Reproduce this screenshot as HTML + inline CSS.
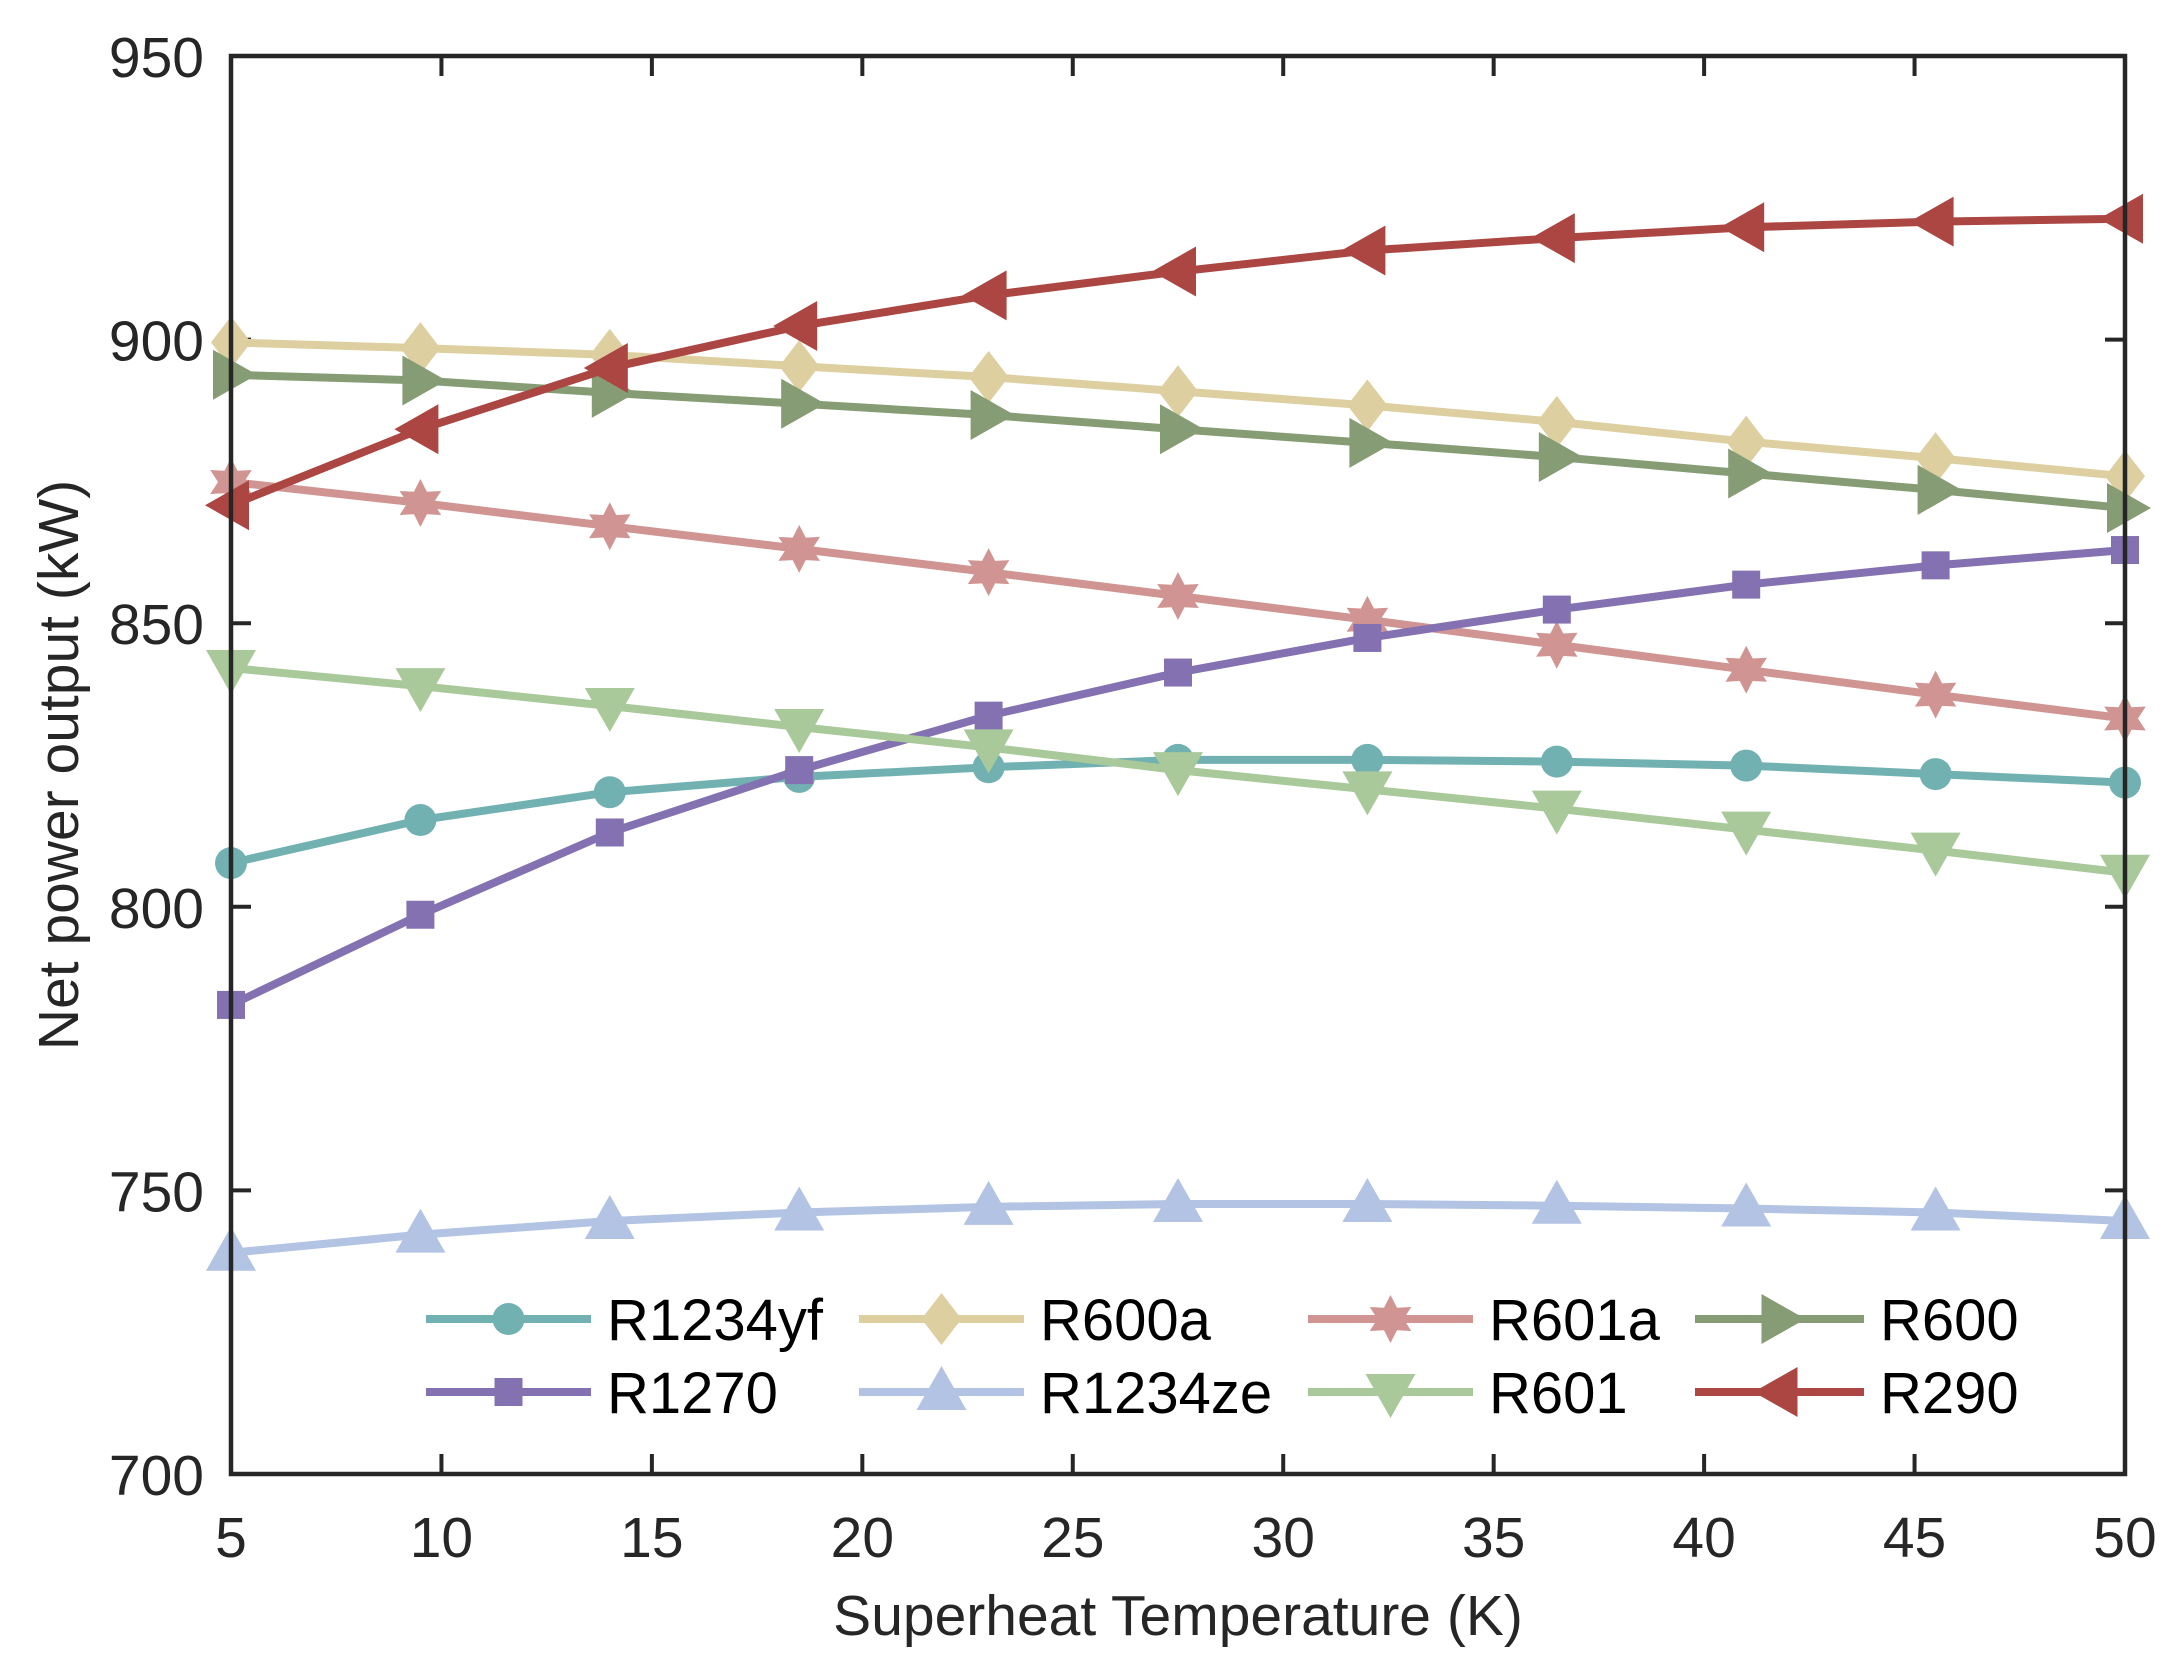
<!DOCTYPE html>
<html><head><meta charset="utf-8"><style>
html,body{margin:0;padding:0;background:#fff;}
svg{display:block;font-family:"Liberation Sans",Arial,sans-serif;}
</style></head><body>
<svg id="chart" width="2182" height="1680" viewBox="0 0 2182 1680" xmlns="http://www.w3.org/2000/svg"></svg>
<script>
const xValues=[5,9.5,14,18.5,23,27.5,32,36.5,41,45.5,50];
const xTicks=[5,10,15,20,25,30,35,40,45,50];
const yTicks=[700,750,800,850,900,950];
const seriesNames=["R1234yf","R600a","R601a","R600","R1270","R1234ze","R601","R290"];
const r1234yf=[807.7,815.3,820.2,822.9,824.6,825.9,825.9,825.6,824.9,823.4,821.9];
const r600a=[899.5,898.5,897.3,895.3,893.4,890.9,888.4,885.5,882.0,879.1,875.9];
const r601a=[874.9,871.2,867.1,863.1,859.0,854.8,850.6,846.2,841.8,837.4,833.2];
const r600=[893.8,892.8,890.6,888.7,886.7,884.2,881.8,879.3,876.4,873.5,870.3];
const r1270=[782.7,798.6,813.1,824.1,833.7,841.3,847.4,852.4,856.8,860.2,862.9];
const r1234ze=[739.0,742.2,744.6,746.1,747.1,747.6,747.6,747.3,746.8,746.1,744.6];
const r601=[842.1,838.9,835.4,831.7,828.1,824.1,820.7,817.3,813.6,809.9,806.0];
const r290=[870.8,884.2,895.0,902.4,907.8,912.0,915.7,917.9,919.8,920.8,921.3];

const L=231,R=2125,T=56,B=1474;
const xs=v=>L+(v-5)/(50-5)*(R-L);
const ys=v=>B-(v-700)/(950-700)*(B-T);
const NS="http://www.w3.org/2000/svg";
const svg=document.getElementById('chart');
function mk(tag,attrs,parent){const e=document.createElementNS(NS,tag);for(const k in attrs)e.setAttribute(k,attrs[k]);(parent||svg).appendChild(e);return e;}

const series=[
 {d:r1234yf,c:"#72b1b1",m:"circle"},
 {d:r600a,c:"#ddcf9f",m:"diamond"},
 {d:r601a,c:"#d09592",m:"star"},
 {d:r600,c:"#869c74",m:"right"},
 {d:r1270,c:"#8471b1",m:"square"},
 {d:r1234ze,c:"#b2c3e3",m:"up"},
 {d:r601,c:"#a9c99a",m:"down"},
 {d:r290,c:"#ab4642",m:"left"}
];
function marker(g,type,x,y,c){
 if(type==="circle"){return mk('circle',{cx:x,cy:y,r:16,fill:c},g);}
 if(type==="square"){return mk('rect',{x:x-14,y:y-14,width:28,height:28,fill:c},g);}
 let p;
 if(type==="diamond")p=[[x,y-26],[x+20,y],[x,y+26],[x-20,y]];
 if(type==="up")p=[[x,y-26],[x+25,y+18],[x-25,y+18]];
 if(type==="down")p=[[x,y+26],[x+25,y-18],[x-25,y-18]];
 if(type==="right")p=[[x+26,y],[x-18,y-25],[x-18,y+25]];
 if(type==="left")p=[[x-26,y],[x+18,y-25],[x+18,y+25]];
 if(type==="star"){p=[];for(let i=0;i<12;i++){const a=-Math.PI/2+i*Math.PI/6;const r=i%2?13:24;p.push([x+r*Math.cos(a),y+r*Math.sin(a)]);}}
 return mk('polygon',{points:p.map(q=>q.join(',')).join(' '),fill:c},g);
}

const axisG=mk('g',{});


xTicks.forEach(t=>{
 const x=xs(t);
 mk('line',{x1:x,y1:B,x2:x,y2:B-20,stroke:"#262626","stroke-width":4},axisG);
 mk('line',{x1:x,y1:T,x2:x,y2:T+20,stroke:"#262626","stroke-width":4},axisG);
 const tx=mk('text',{x:x,y:1557,"font-size":57,"text-anchor":"middle",fill:"#262626"},axisG);
 tx.textContent=t;
 
 
});
yTicks.forEach(t=>{
 const y=ys(t);
 mk('line',{x1:L,y1:y,x2:L+20,y2:y,stroke:"#262626","stroke-width":4},axisG);
 mk('line',{x1:R,y1:y,x2:R-20,y2:y,stroke:"#262626","stroke-width":4},axisG);
 const tx=mk('text',{x:204,y:y+21,"font-size":57,"text-anchor":"end",fill:"#262626"},axisG);
 tx.textContent=t;
 
 
});

series.forEach((s,i)=>{
 const g=mk('g',{});
 
 
 mk('polyline',{points:s.d.map((v,j)=>xs(xValues[j])+','+ys(v)).join(' '),fill:"none",stroke:s.c,"stroke-width":8,"stroke-linejoin":"round"},g);
 s.d.forEach((v,j)=>{const m=marker(g,s.m,xs(xValues[j]),ys(v),s.c);
  
  });
});

const box=mk('rect',{x:L,y:T,width:R-L,height:B-T,fill:"none",stroke:"#262626","stroke-width":4.5});



const legG=mk('g',{});


const colLine=[[426,591],[859,1024],[1308,1473],[1695,1864]];
const rows=[1319,1392];
series.forEach((s,i)=>{
 const col=i%4,row=Math.floor(i/4);
 const g=mk('g',{},legG);
 
 
 const [a,b]=colLine[col],y=rows[row];
 mk('line',{x1:a,y1:y,x2:b,y2:y,stroke:s.c,"stroke-width":8},g);
 marker(g,s.m,(a+b)/2,y,s.c);
 const t=mk('text',{x:b+16,y:y+21,"font-size":58,fill:"#000"},g);
 t.textContent=seriesNames[i];
});

const xt=mk('text',{x:(L+R)/2,y:1635,"font-size":57,"text-anchor":"middle",fill:"#262626"});
xt.textContent="Superheat Temperature (K)";


const yt=mk('text',{x:0,y:0,"font-size":57,"text-anchor":"middle",fill:"#262626",transform:"translate(78,"+((T+B)/2)+") rotate(-90)"});
yt.textContent="Net power output (kW)";


</script>
</body></html>
